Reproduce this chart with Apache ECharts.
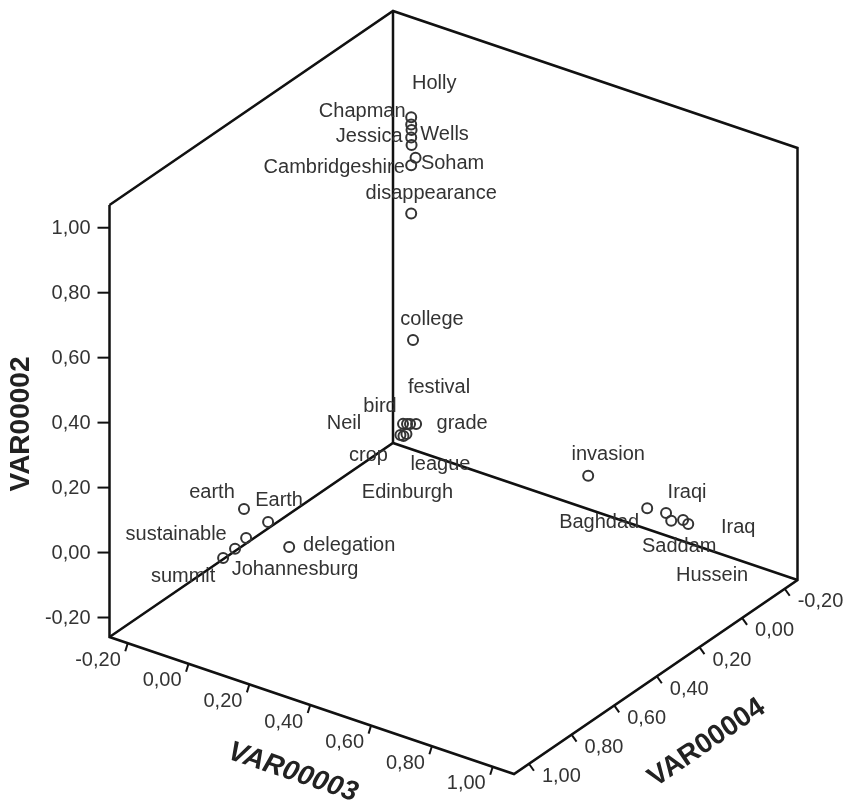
<!DOCTYPE html>
<html>
<head>
<meta charset="utf-8">
<script src="https://cdn.jsdelivr.net/npm/echarts@6/dist/echarts.min.js"></script>
<style>
html,body{margin:0;padding:0;background:#ffffff;}
#c{width:846px;height:807px;}
</style>
</head>
<body>
<div id="c"></div>
<script>
// ---------------- data ----------------
const words = ['Holly','Chapman','Wells','Jessica','','Soham','Cambridgeshire','disappearance',
  'college','Neil','bird','festival','grade','crop','league','Edinburgh',
  'earth','Earth','sustainable','Johannesburg','summit','delegation',
  'invasion','Baghdad','Iraqi','Saddam','Hussein','Iraq'];
const var00003 = [-0.060,-0.060,-0.056,-0.060,-0.056,-0.012,-0.060,-0.060,
  -0.040,-0.028,-0.019,-0.012,0.001,0.002,0.012,0.012,
  0.000,0.000,0.000,0.000,0.000,0.117,
  0.564,0.758,0.820,0.837,0.876,0.893];
const var00004 = [-0.060,-0.060,-0.056,-0.060,-0.056,-0.012,-0.060,-0.060,
  -0.040,0.024,0.018,0.014,0.004,0.079,0.065,0.079,
  0.810,0.697,0.800,0.852,0.908,0.765,
  0.000,0.000,0.000,0.000,0.000,0.000];
const var00002 = [0.896,0.874,0.860,0.834,0.814,0.808,0.748,0.600,
  0.226,0.000,0.000,0.000,0.000,0.000,0.000,0.000,
  0.100,0.009,0.006,-0.004,-0.007,0.000,
  0.017,-0.021,-0.016,-0.035,-0.020,-0.027];
const tickValues = [-0.2, 0.0, 0.2, 0.4, 0.6, 0.8, 1.0];
const axisRange = [-0.26, 1.07];
const axisNames = {x:'VAR00003', y:'VAR00004', z:'VAR00002'};

// ---------------- layout / style (not data) ----------------
const view = {
  origin: [393, 443],      // screen place of the (min,min,min) corner
  uVec: [404.5, 137],      // full-range displacement along VAR00003
  vVec: [-283.5, 194],     // full-range displacement along VAR00004
  wVec: [0, -432]          // full-range displacement along VAR00002
};
const labelOffset = {
  'Holly':[23,-34],'Chapman':[-49,-13],'Wells':[33,5],'Jessica':[-42,-1],
  'Soham':[37,6],'Cambridgeshire':[-77,2],'disappearance':[20,-20],
  'college':[19,-20],'Neil':[-59,0],'bird':[-27,-17],'festival':[29,-37],
  'grade':[46,0],'crop':[-32,20],'league':[34,31],'Edinburgh':[4,56],
  'earth':[-32,-16],'Earth':[11,-22],'sustainable':[-70,-4],'delegation':[60,-1],
  'summit':[-40,19],'Johannesburg':[60,21],
  'invasion':[20,-21],'Baghdad':[-48,14],'Iraqi':[21,-20],'Iraq':[50,3],
  'Saddam':[8,26],'Hussein':[29,55]
};
const FONT = '"Liberation Sans", Arial, sans-serif';
const LINE = '#111111';
const TXT = '#333333';

function project(u, v, w) {
  const span = axisRange[1] - axisRange[0];
  const fu = (u - axisRange[0]) / span;
  const fv = (v - axisRange[0]) / span;
  const fw = (w - axisRange[0]) / span;
  return [
    view.origin[0] + fu * view.uVec[0] + fv * view.vVec[0] + fw * view.wVec[0],
    view.origin[1] + fu * view.uVec[1] + fv * view.vVec[1] + fw * view.wVec[1]
  ];
}
function fmt(t) { return t.toFixed(2).replace('.', ','); }

function frameItem(params, api) {
  const lo = axisRange[0], hi = axisRange[1];
  const P = (u, v, w) => api.coord(project(u, v, w));
  const ch = [];
  const A = P(lo, hi, lo), B = P(hi, hi, lo), C = P(hi, lo, lo), D = P(lo, lo, lo);
  const At = P(lo, hi, hi), Ct = P(hi, lo, hi), Dt = P(lo, lo, hi);
  ch.push({type:'polyline', shape:{points:[At, A, B, C, Ct, Dt, At]},
    style:{stroke:LINE, lineWidth:2.5, fill:null, lineJoin:'miter'}});
  ch.push({type:'polyline', shape:{points:[A, D, C]}, style:{stroke:LINE, lineWidth:2.5, fill:null}});
  ch.push({type:'line', shape:{x1:D[0], y1:D[1], x2:Dt[0], y2:Dt[1]}, style:{stroke:LINE, lineWidth:2.5}});
  const tick = (p, dx, dy) => ch.push({type:'line', shape:{x1:p[0], y1:p[1], x2:p[0]+dx, y2:p[1]+dy},
    style:{stroke:LINE, lineWidth:2}});
  const txt = (s, x, y, align) => ch.push({type:'text', style:{text:s, x:x, y:y, align:align,
    verticalAlign:'middle', fill:TXT, font:'20px ' + FONT}});
  tickValues.forEach(t => {
    // VAR00002 (vertical, left edge)
    const pz = P(lo, hi, t);
    tick(pz, -12, 0);
    txt(fmt(t), pz[0] - 19, pz[1] + 1, 'right');
    // VAR00003 (front-left floor edge)
    const px = P(t, hi, lo);
    tick(px, -2.5, 8);
    txt(fmt(t), px[0] - 7, px[1] + 17, 'right');
    // VAR00004 (front-right floor edge)
    const py = P(hi, t, lo);
    tick(py, 5, 7);
    txt(fmt(t), py[0] + 13, py[1] + 13, 'left');
  });
  const mid = (lo + hi) / 2;
  const title = (s, p, dx, dy, rot, italic) => ch.push({type:'text', x:p[0]+dx, y:p[1]+dy, rotation:rot,
    style:{text:s, x:0, y:0, align:'center', verticalAlign:'middle', fill:'#222',
      font:(italic ? 'italic ' : '') + 'bold 28px ' + FONT}});
  title(axisNames.z, P(lo, hi, mid), -88, 3, Math.PI / 2, false);
  title(axisNames.x, P(mid, hi, lo), -19, 67, -Math.atan2(view.uVec[1], view.uVec[0]), true);
  title(axisNames.y, P(hi, mid, lo), 51, 66, Math.atan2(view.vVec[1], -view.vVec[0]), false);
  return {type:'group', children:ch};
}

function pointItem(params, api) {
  const i = params.dataIndex;
  const c = api.coord(project(api.value(0), api.value(1), api.value(2)));
  const name = words[i];
  const ch = [{type:'circle', shape:{cx:c[0], cy:c[1], r:5},
    style:{fill:'transparent', stroke:'#333', lineWidth:2}}];
  if (name) {
    const off = labelOffset[name] || [0, -18];
    ch.push({type:'text', style:{text:name, x:c[0] + off[0], y:c[1] + off[1], align:'center',
      verticalAlign:'middle', fill:TXT, font:'20px ' + FONT}});
  }
  return {type:'group', children:ch};
}

const points = words.map((n, i) => [var00003[i], var00004[i], var00002[i]]);

const chart = echarts.init(document.getElementById('c'), null, {renderer:'canvas', width:846, height:807});
chart.setOption({
  animation: false,
  backgroundColor: '#ffffff',
  grid: {left:0, right:0, top:0, bottom:0},
  xAxis: {type:'value', min:0, max:846, show:false},
  yAxis: {type:'value', min:0, max:807, inverse:true, show:false},
  series: [
    {type:'custom', renderItem:frameItem, data:[[0, 0]], silent:true, z:1, clip:false},
    {type:'custom', renderItem:pointItem, data:points, z:2, clip:false}
  ]
});
</script>
</body>
</html>
